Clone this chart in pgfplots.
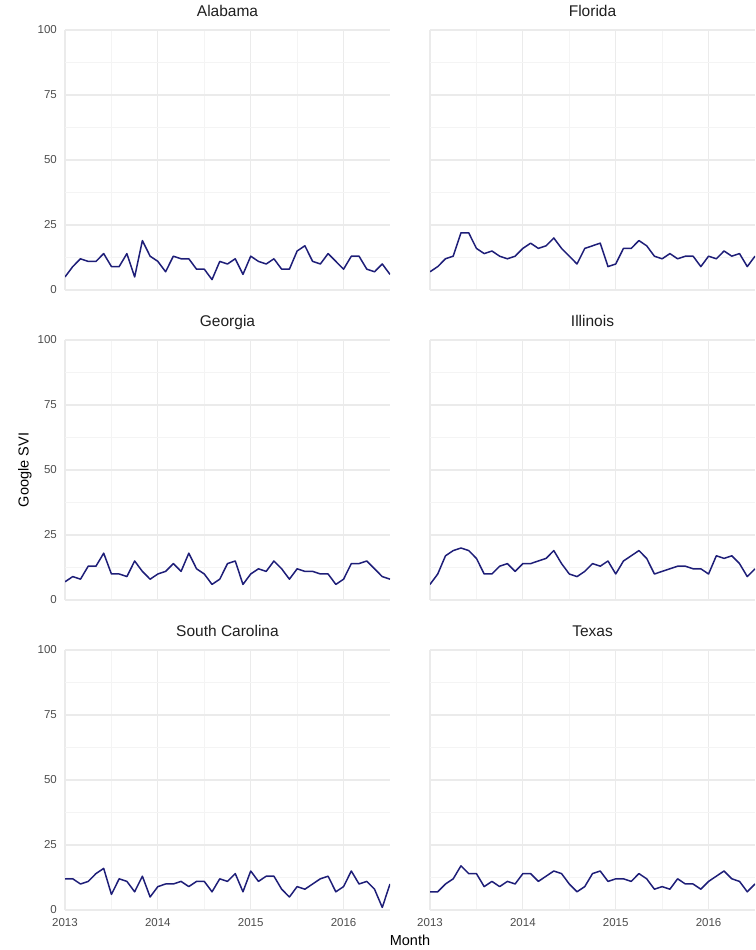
\documentclass[border=0pt]{standalone}
\usepackage{fontspec}
\setmainfont{Liberation Sans}
\usepackage{pgfplots}
\usepackage{pgfplotstable}
\pgfplotsset{compat=1.18}
\definecolor{gmaj}{HTML}{EBEBEB}
\definecolor{gmin}{HTML}{F4F4F4}
\definecolor{tickgray}{HTML}{4D4D4D}
\definecolor{svi}{HTML}{1E1E78}

\pgfplotstableread{
m AL FL GA IL SC TX
0 5 7 7 6 12 7
1 9 9 9 10 12 7
2 12 12 8 17 10 10
3 11 13 13 19 11 12
4 11 22 13 20 14 17
5 14 22 18 19 16 14
6 9 16 10 16 6 14
7 9 14 10 10 12 9
8 14 15 9 10 11 11
9 5 13 15 13 7 9
10 19 12 11 14 13 11
11 13 13 8 11 5 10
12 11 16 10 14 9 14
13 7 18 11 14 10 14
14 13 16 14 15 10 11
15 12 17 11 16 11 13
16 12 20 18 19 9 15
17 8 16 12 14 11 14
18 8 13 10 10 11 10
19 4 10 6 9 7 7
20 11 16 8 11 12 9
21 10 17 14 14 11 14
22 12 18 15 13 14 15
23 6 9 6 15 7 11
24 13 10 10 10 15 12
25 11 16 12 15 11 12
26 10 16 11 17 13 11
27 12 19 15 19 13 14
28 8 17 12 16 8 12
29 8 13 8 10 5 8
30 15 12 12 11 9 9
31 17 14 11 12 8 8
32 11 12 11 13 10 12
33 10 13 10 13 12 10
34 14 13 10 12 13 10
35 11 9 6 12 7 8
36 8 13 8 10 9 11
37 13 12 14 17 15 13
38 13 15 14 16 10 15
39 8 13 15 17 11 12
40 7 14 12 14 8 11
41 10 9 9 9 1 7
42 6 13 8 12 10 10
}\svidata

\pgfplotsset{panel/.style={
  scale only axis, width=325pt, height=260pt,
  anchor=south west,
  xmin=0, xmax=42, ymin=0, ymax=100,
  axis line style={draw=none},
  major tick length=0pt, minor tick length=0pt,
  tick style={draw=none},
  xtick={0,12,24,36}, minor xtick={6,18,30},
  ytick={0,25,50,75,100}, minor ytick={12.5,37.5,62.5,87.5},
  grid=both,
  major grid style={gmaj, line width=1.1pt},
  minor grid style={gmin, line width=0.6pt},
  xticklabels={}, yticklabels={},
  /pgf/number format/assume math mode=true,
  ticklabel style={font=\fontsize{11.5}{12}\selectfont, text=tickgray, inner sep=0pt},
  title style={font=\fontsize{15.5}{16}\selectfont, text=black!88, anchor=base, at={(0.5,1)}, yshift=7.5pt, inner sep=0pt},
},
left/.style={yticklabels={0,25,50,75,100}, yticklabel style={xshift=-8pt}},
bottom/.style={xticklabels={2013,2014,2015,2016}, xticklabel style={yshift=-8pt}},
series/.style={svi, line width=1.5pt, line join=round, mark=none}
}

\begin{document}
\begin{tikzpicture}
\useasboundingbox (0,0) rectangle (755pt,950pt);
% row 1
\begin{axis}[panel, left, at={(65pt,660pt)}, title={Alabama}]
\addplot[series] table[x=m, y=AL] {\svidata};
\end{axis}
\begin{axis}[panel, at={(430pt,660pt)}, title={Florida}]
\addplot[series] table[x=m, y=FL] {\svidata};
\end{axis}
% row 2
\begin{axis}[panel, left, at={(65pt,350pt)}, title={Georgia}]
\addplot[series] table[x=m, y=GA] {\svidata};
\end{axis}
\begin{axis}[panel, at={(430pt,350pt)}, title={Illinois}]
\addplot[series] table[x=m, y=IL] {\svidata};
\end{axis}
% row 3
\begin{axis}[panel, left, bottom, at={(65pt,40pt)}, title={South Carolina}]
\addplot[series] table[x=m, y=SC] {\svidata};
\end{axis}
\begin{axis}[panel, bottom, at={(430pt,40pt)}, title={Texas}]
\addplot[series] table[x=m, y=TX] {\svidata};
\end{axis}
\node[rotate=90, font=\fontsize{14.5}{15}\selectfont, inner sep=0pt] at (25pt,480pt) {Google SVI};
\node[font=\fontsize{14.5}{15}\selectfont, inner sep=0pt] at (410pt,10pt) {Month};
\end{tikzpicture}
\end{document}
